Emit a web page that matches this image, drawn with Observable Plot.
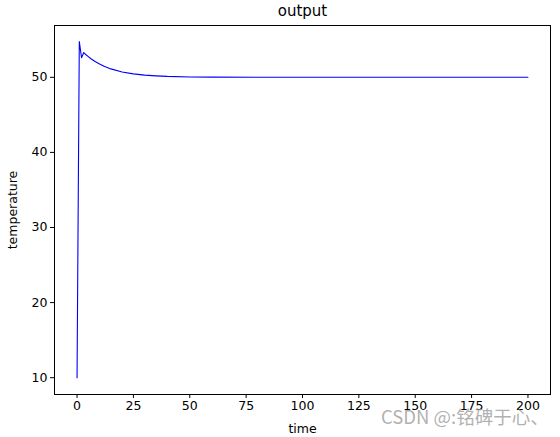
<!DOCTYPE html>
<html><head><meta charset="utf-8">
<script src="https://cdn.jsdelivr.net/npm/d3@7"></script>
<script src="https://cdn.jsdelivr.net/npm/@observablehq/plot@0.6"></script>
<style>
body{margin:0;background:#fff}
#c{position:relative;width:560px;height:437px;font-family:"DejaVu Sans",sans-serif}
#wm{position:absolute;left:381px;top:403px;font-size:18.5px;color:rgba(150,150,150,0.75);font-family:"Noto Sans CJK SC","DejaVu Sans",sans-serif;white-space:nowrap}
</style>
</head><body><div id="c"><div id="wm">CSDN @:铭碑于心、</div></div>
<script>
const time = [0, 1, 2, 3, 4, 5, 6, 7, 8, 10, 12, 15, 20, 25, 30, 35, 40, 50, 60, 80, 100, 150, 200];
const temperature = [10, 54.75, 52.6, 53.3, 53.0, 52.75, 52.5, 52.3, 52.1, 51.76, 51.47, 51.12, 50.71, 50.46, 50.29, 50.19, 50.12, 50.05, 50.02, 50.0, 50.0, 50.0, 50.0];
const xTicks = [0, 25, 50, 75, 100, 125, 150, 175, 200];
const yTicks = [10, 20, 30, 40, 50];
const titleText = "output";

const data = time.map((t, i) => ({time: t, temperature: temperature[i]}));

const chart = Plot.plot({
  width: 560, height: 437,
  marginLeft: 54, marginRight: 10, marginTop: 25, marginBottom: 43,
  style: {fontFamily: "DejaVu Sans", fontSize: "12px", background: "white", color: "black"},
  x: {domain: [-10, 210]},
  y: {domain: [7.76, 56.9]},
  marks: [
    Plot.axisX({ticks: xTicks, tickSize: 4, tickPadding: 3, label: "time", labelAnchor: "center", labelArrow: "none", labelOffset: 38, fontSize: 12.5}),
    Plot.axisY({ticks: yTicks, tickSize: 4, tickPadding: 3, label: "temperature", labelAnchor: "center", labelArrow: "none", labelOffset: 46, fontSize: 12.5}),
    Plot.line(data, {x: "time", y: "temperature", stroke: "#0000ff", strokeWidth: 1.1}),
    Plot.frame({stroke: "black", strokeWidth: 1}),
    Plot.text([titleText], {frameAnchor: "top", dy: -20, fontSize: 15, text: d => d})
  ]
});
document.getElementById("c").prepend(chart);
</script>
</body></html>
